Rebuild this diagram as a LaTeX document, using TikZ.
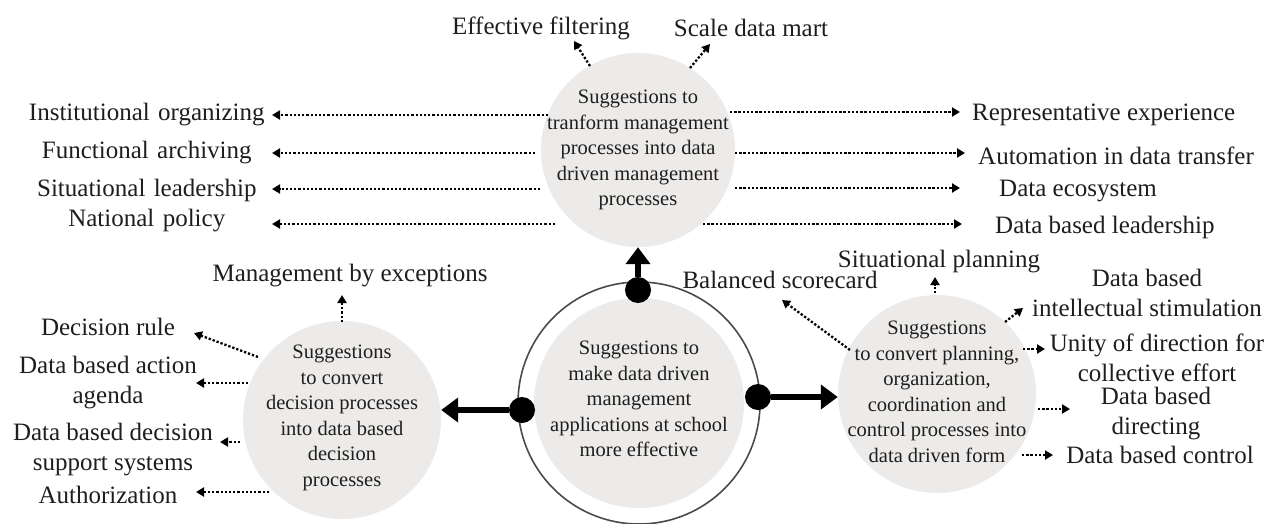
\documentclass[tikz,border=0pt]{standalone}
\usepackage{fontspec}
\setmainfont{Liberation Serif}
\usetikzlibrary{arrows.meta}
\definecolor{cfill}{HTML}{EDEBE9}
\definecolor{ringc}{HTML}{4A4A4A}
\definecolor{ink}{HTML}{1E1E1E}
\begin{document}
\begin{tikzpicture}[x=1pt,y=-1pt,
  lab/.style={font=\fontsize{25}{30}\selectfont, align=center, inner sep=0pt, text=ink, yshift=-3pt},
  disc/.style={circle, fill=cfill, draw=none, inner sep=0pt},
  ctext/.style={align=center, inner sep=0pt, font=\fontsize{20.5}{25.5}\selectfont, text=ink},
  dar/.style={line width=2.3pt, dash pattern=on 2.3pt off 1.9pt, -{Triangle[length=8pt,width=9pt]}},
  bigar/.style={line width=5.5pt, -{Triangle[length=17pt,width=24pt]}},
  dotn/.style={circle, fill=black, minimum size=26pt, inner sep=0pt}]
\useasboundingbox (0,0) rectangle (1281,523);

% circles
\node[disc, minimum size=194pt] (T) at (638,150) {};
\node[ctext] (Tt) at (T.center) {Suggestions to\\tranform management\\processes into data\\driven management\\processes};
\node[circle, draw=ringc, line width=1.6pt, minimum size=242pt, inner sep=0pt] (Ring) at (639,403) {};
\node[disc, minimum size=210pt] (C) at (Ring.center) {};
\node[ctext] (Ct) at ([shift={(0,-4)}]C.center) {Suggestions to\\make data driven\\management\\applications at school\\more effective};
\node[disc, minimum size=198pt] (L) at (342,420) {};
\node[ctext] (Lt) at ([shift={(0,-2)}]L.center) {Suggestions\\to convert\\decision processes\\into data based\\decision\\processes};
\node[disc, minimum size=198pt] (R) at (937,394) {};
\node[ctext] (Rt) at ([shift={(0,-2)}]R.center) {Suggestions\\to convert planning,\\organization,\\coordination and\\control processes into\\data driven form};

% dots and big arrows
\node[dotn] (dt) at (638,290) {};
\node[dotn] (dl) at (522,410) {};
\node[dotn] (dr) at (758,397) {};
\draw[bigar] (dt.north) -- (dt.north |- T.south);
\draw[bigar] (dl.west) -- (dl.west -| L.east);
\draw[bigar] (dr.east) -- (dr.east -| R.west);

% top labels
\node[lab] (ef) at (541,25) {Effective filtering};
\node[lab] (sdm) at (751,25) {Scale data mart};
\draw[dar] ([shift={(-48,-84)}]T.center) -- ([shift={(33,13)}]ef.center);
\draw[dar] ([shift={(52,-82)}]T.center) -- ([shift={(-41,16)}]sdm.center);

% left of top circle
\node[lab, text width=250pt, anchor=east] (l1) at (272,112) {Institutional organizing};
\node[lab, text width=250pt, anchor=east] (l2) at (272,150) {Functional archiving};
\node[lab, text width=250pt, anchor=east] (l3) at (272,187) {Situational leadership};
\node[lab, text width=250pt, anchor=east] (l4) at (272,218) {National policy};
\draw[dar] ([shift={(-90,-35)}]T.center) -- (l1.east);
\draw[dar] ([shift={(-103,3)}]T.center) -- (l2.east);
\draw[dar] ([shift={(-98,39)}]T.center) -- ([shift={(0,-1)}]l3.east);
\draw[dar] ([shift={(-83,74)}]T.center) -- ([shift={(0,3)}]l4.east);

% right of top circle
\node[lab, anchor=west] (r1) at (972,112) {Representative experience};
\node[lab, anchor=west] (r2) at (978,153) {Automation in data transfer};
\node[lab, anchor=west] (r3) at (999,188) {Data ecosystem};
\node[lab, anchor=west] (r4) at (995,224) {Data based leadership};
\draw[dar] ([shift={(92,-38)}]T.center) -- ([shift={(-12,-3)}]r1.west);
\draw[dar] ([shift={(97,3)}]T.center) -- ([shift={(-13,-3)}]r2.west);
\draw[dar] ([shift={(97,38)}]T.center) -- ([shift={(-39,-3)}]r3.west);
\draw[dar] ([shift={(65,74)}]T.center) -- ([shift={(-33,-3)}]r4.west);

% left circle labels
\node[lab] (mbe) at (350,273) {Management by exceptions};
\node[lab] (dru) at (108,324) {Decision rule};
\node[lab] (dag) at (108,380) {Data based action\\agenda};
\node[lab] (dss) at (113,447) {Data based decision\\support systems};
\node[lab] (aut) at (108,492) {Authorization};
\draw[dar] ([shift={(0,-98)}]L.center) -- ([shift={(-8,19)}]mbe.center);
\draw[dar] ([shift={(-84,-63)}]L.center) -- ([shift={(86,6)}]dru.center);
\draw[dar] ([shift={(-94,-37)}]L.center) -- ([shift={(88,0)}]dag.center);
\draw[dar] ([shift={(-102,22)}]L.center) -- ([shift={(107,-8)}]dss.center);
\draw[dar] ([shift={(-73,72)}]L.center) -- ([shift={(88,-3)}]aut.center);

% right circle labels
\node[lab] (bsc) at (780,277) {Balanced scorecard};
\node[lab] (spl) at (939,259) {Situational planning};
\node[lab] (ist) at (1147,290) {Data based\\intellectual stimulation};
\node[lab] (udi) at (1157,355) {Unity of direction for\\collective effort};
\node[lab] (ddi) at (1156,411) {Data based\\directing};
\node[lab] (dco) at (1160,452) {Data based control};
\draw[dar] ([shift={(-87,-44)}]R.center) -- ([shift={(2,20)}]bsc.center);
\draw[dar] ([shift={(-2,-101)}]R.center) -- ([shift={(-4,15)}]spl.center);
\draw[dar] ([shift={(68,-72)}]R.center) -- ([shift={(-124,15)}]ist.center);
\draw[dar] ([shift={(86,-45)}]R.center) -- ([shift={(-112,-9)}]udi.center);
\draw[dar] ([shift={(101,15)}]R.center) -- ([shift={(-86,-5)}]ddi.center);
\draw[dar] ([shift={(85,61)}]R.center) -- ([shift={(-107,0)}]dco.center);
\end{tikzpicture}
\end{document}
